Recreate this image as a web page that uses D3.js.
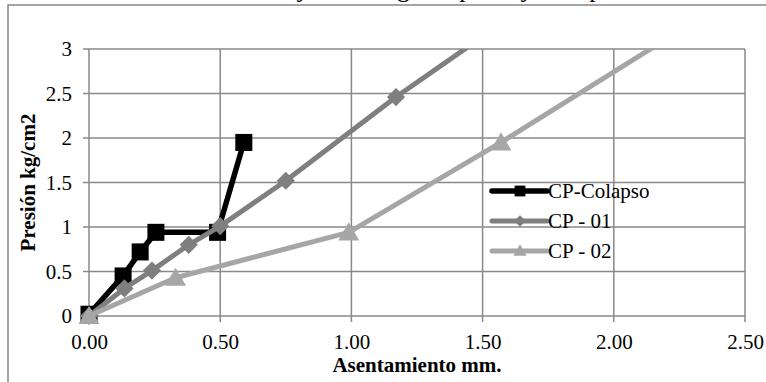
<!DOCTYPE html>
<html>
<head>
<meta charset="utf-8">
<script src="https://cdn.jsdelivr.net/npm/d3@7"></script>
<style>
  body { margin: 0; background: #fff; }
  svg { display: block; }
  text { font-family: "Liberation Serif", "Times New Roman", serif; }
</style>
</head>
<body>
<div id="chart"></div>
<script>
// Chart size
const width = 766;
const height = 382;
const plot = { left: 89, right: 745, top: 49, bottom: 316 };
const serif = "'Liberation Serif', 'Times New Roman', serif";

// Data
const colapsoX = [0.0, 0.13, 0.195, 0.255, 0.49, 0.59];
const colapsoY = [0.02, 0.45, 0.72, 0.94, 0.94, 1.95];
const cp01X = [0.0, 0.135, 0.24, 0.38, 0.5, 0.75, 1.17, 1.7];
const cp01Y = [0.0, 0.31, 0.51, 0.8, 1.01, 1.52, 2.46, 3.55];
const cp02X = [0.0, 0.33, 0.99, 1.57, 2.4];
const cp02Y = [0.0, 0.43, 0.94, 1.95, 3.48];
const xTicks = [0, 0.5, 1.0, 1.5, 2.0, 2.5];
const yTicks = [0, 0.5, 1, 1.5, 2, 2.5, 3];
const seriesNames = ["CP-Colapso", "CP - 01", "CP - 02"];
const titleText = "Curva Presión - Asentamiento - Ensayo de Carga en placa y Colapso";

// diamond = square turned 45 degrees
const series = [
  { name: seriesNames[0], xs: colapsoX, ys: colapsoY, color: "#000000", width: 5.5, marker: d3.symbolSquare, size: 290, rot: 0, dy: 0 },
  { name: seriesNames[1], xs: cp01X, ys: cp01Y, color: "#7f7f7f", width: 5, marker: d3.symbolSquare, size: 165, rot: 45, dy: 0 },
  { name: seriesNames[2], xs: cp02X, ys: cp02Y, color: "#a6a6a6", width: 5, marker: d3.symbolTriangle, size: 190, rot: 0, dy: 2 },
];

const svg = d3.select("#chart")
  .append("svg")
  .attr("width", width)
  .attr("height", height);

// Outer chart border (runs off the page right and bottom)
svg.append("rect")
  .attr("x", 8).attr("y", 5)
  .attr("width", 800).attr("height", 400)
  .attr("fill", "none")
  .attr("stroke", "#888")
  .attr("stroke-width", 1.5);

// Title, cut off at the top of the page as in the reference
const title = svg.append("text")
  .attr("x", 0)
  .attr("y", -3)
  .attr("font-family", "'Liberation Sans', Arial, sans-serif")
  .attr("font-size", 26)
  .text(titleText);
// line up the "y" of "Ensayo" with where it sits in the reference
const yIdx = titleText.indexOf("Ensayo") + 4;
const node = title.node();
const yCenter = node.getSubStringLength(0, yIdx) + node.getSubStringLength(yIdx, 1) / 2;
title.attr("x", 303 - yCenter);

const x = d3.scaleLinear().domain([0, 2.5]).range([plot.left, plot.right]);
const y = d3.scaleLinear().domain([0, 3]).range([plot.bottom, plot.top]);

// Gridlines
const grid = svg.append("g").attr("stroke", "#898989").attr("stroke-width", 1.5);
grid.selectAll(".hgrid")
  .data(yTicks)
  .enter()
  .append("line")
  .attr("x1", plot.left - 6).attr("x2", plot.right)
  .attr("y1", (d) => y(d)).attr("y2", (d) => y(d));
grid.selectAll(".vgrid")
  .data(xTicks)
  .enter()
  .append("line")
  .attr("x1", (d) => x(d)).attr("x2", (d) => x(d))
  .attr("y1", plot.top).attr("y2", plot.bottom + 6);

// Axes (labels only; lines drawn by the grid)
const xAxis = d3.axisBottom(x).tickValues(xTicks).tickFormat(d3.format(".2f")).tickSize(0).tickPadding(18);
const yAxis = d3.axisLeft(y).tickValues(yTicks).tickFormat((d) => String(d)).tickSize(0).tickPadding(17);

svg.append("g")
  .attr("transform", `translate(0, ${plot.bottom})`)
  .call(xAxis)
  .attr("font-family", serif)
  .attr("font-size", 21)
  .call((g) => g.select(".domain").remove());
svg.append("g")
  .attr("transform", `translate(${plot.left}, 0)`)
  .call(yAxis)
  .attr("font-family", serif)
  .attr("font-size", 21)
  .call((g) => g.select(".domain").remove());

svg.selectAll(".tick text").attr("fill", "#000");

// Axis titles
svg.append("text")
  .attr("x", (plot.left + plot.right) / 2)
  .attr("y", 372)
  .attr("text-anchor", "middle")
  .attr("font-family", serif)
  .attr("font-size", 21)
  .attr("font-weight", "bold")
  .text("Asentamiento mm.");

svg.append("text")
  .attr("transform", `translate(35, ${(plot.top + plot.bottom) / 2}) rotate(-90)`)
  .attr("text-anchor", "middle")
  .attr("font-family", serif)
  .attr("font-size", 21)
  .attr("font-weight", "bold")
  .text("Presión kg/cm2");

// Clip the lines at the top of the plot
svg.append("clipPath")
  .attr("id", "clip")
  .append("rect")
  .attr("x", 0).attr("y", plot.top)
  .attr("width", width).attr("height", height - plot.top);

const line = d3.line().x((d) => x(d[0])).y((d) => y(d[1]));

series.forEach((s) => {
  const pts = s.xs.map((v, i) => [v, s.ys[i]]);
  const g = svg.append("g");
  g.append("path")
    .datum(pts)
    .attr("clip-path", "url(#clip)")
    .attr("fill", "none")
    .attr("stroke", s.color)
    .attr("stroke-width", s.width)
    .attr("stroke-linejoin", "round")
    .attr("d", line);
  g.selectAll(".marker")
    .data(pts.filter((p) => p[1] <= 3))
    .enter()
    .append("path")
    .attr("d", d3.symbol().type(s.marker).size(s.size))
    .attr("transform", (d) => `translate(${x(d[0])}, ${y(d[1]) + s.dy}) rotate(${s.rot})`)
    .attr("fill", s.color);
});

// Legend
const legend = svg.append("g").attr("transform", "translate(492, 191)");
const items = legend.selectAll(".legend-item")
  .data(series)
  .enter()
  .append("g")
  .attr("transform", (d, i) => `translate(0, ${i * 30})`);
items.append("line")
  .attr("x1", 0).attr("x2", 55)
  .attr("stroke", (d) => d.color)
  .attr("stroke-width", (d) => d.width)
  .attr("stroke-linecap", "round");
items.append("path")
  .attr("d", (d) => d3.symbol().type(d.marker).size(d.size * 0.4)())
  .attr("transform", (d) => `translate(28, ${d.dy / 2}) rotate(${d.rot})`)
  .attr("fill", (d) => d.color);
items.append("text")
  .attr("x", 56)
  .attr("y", 7)
  .attr("font-family", serif)
  .attr("font-size", 21)
  .text((d) => d.name);
</script>
</body>
</html>
